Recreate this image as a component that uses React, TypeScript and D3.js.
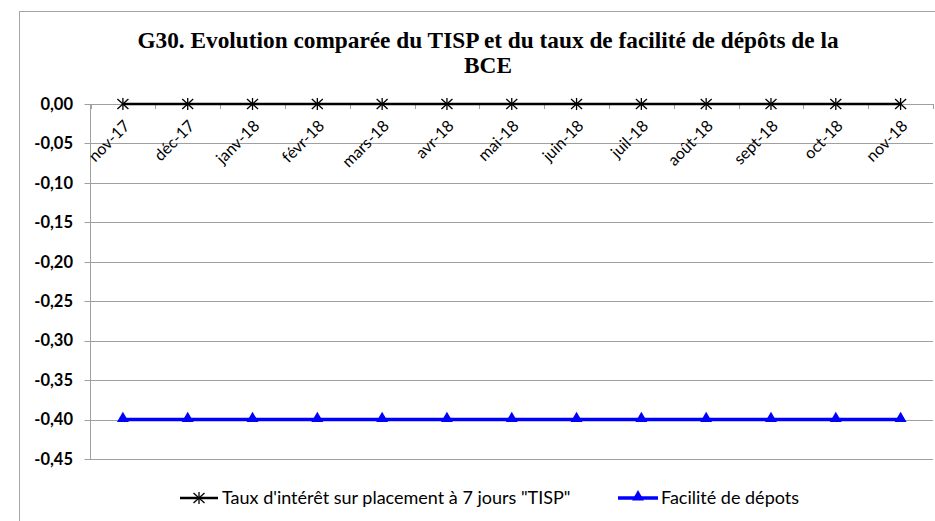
import React from "react";
import * as d3 from "d3";

const categories = ["nov-17","déc-17","janv-18","févr-18","mars-18","avr-18","mai-18","juin-18","juil-18","août-18","sept-18","oct-18","nov-18"];
const tispValues = [0,0,0,0,0,0,0,0,0,0,0,0,0];
const depotValues = [-0.4,-0.4,-0.4,-0.4,-0.4,-0.4,-0.4,-0.4,-0.4,-0.4,-0.4,-0.4,-0.4];
const yTicks = [0,-0.05,-0.1,-0.15,-0.2,-0.25,-0.3,-0.35,-0.4,-0.45];
const titleLines = ["G30. Evolution comparée du TISP et du taux de facilité de dépôts de la","BCE"];
const legendLabels = ["Taux d'intérêt sur placement à 7 jours \"TISP\"","Facilité de dépots"];

const W = 935, H = 521;
const plot = { left: 90.5, right: 933, top: 104, bottom: 459 };
const font = "Lato, 'Open Sans', sans-serif";

export default function App() {
  const x = d3.scaleBand<string>().domain(categories).range([plot.left, plot.right]);
  const y = d3.scaleLinear().domain([0, -0.45]).range([plot.top, plot.bottom]);
  const cx = (c: string) => (x(c) as number) + x.bandwidth() / 2;
  const line = d3.line<number>().x((_, i) => cx(categories[i])).y(d => y(d));
  const fmt = (v: number) => v.toFixed(2).replace(".", ",").replace(/^-?0,00$/, "0,00");
  const tri = d3.symbol().type(d3.symbolTriangle).size(62)();
  const star = (px: number, py: number, k: number) => (
    <g key={k} transform={`translate(${px},${py})`} stroke="#000" strokeWidth={1.3}>
      <line x1={0} y1={-6} x2={0} y2={6} />
      <line x1={-5.5} y1={-5} x2={5.5} y2={5} />
      <line x1={-5.5} y1={5} x2={5.5} y2={-5} />
    </g>
  );
  const boundaries = [...categories.map(c => x(c) as number), plot.right];
  return (
    <svg width={W} height={H} style={{ position: "absolute", left: 0, top: 0, background: "#fff" }}>
      <rect x={19.5} y={11.5} width={W} height={H} fill="#fff" stroke="#a6a6a6" strokeWidth={1} />
      {titleLines.map((t, i) => (
        <text key={i} x={488} y={48 + i * 25} textAnchor="middle" fontFamily="'Liberation Serif', 'DejaVu Serif', serif" fontWeight="bold" fontSize={23.3} fill="#000">{t}</text>
      ))}
      {yTicks.map((v, i) => (
        <g key={i}>
          <line x1={plot.left - 6} x2={plot.right} y1={Math.round(y(v)) + 0.5} y2={Math.round(y(v)) + 0.5} stroke="#a0a0a0" strokeWidth={1} />
          <text x={73} y={y(v)} dy="0.35em" textAnchor="end" fontFamily={font} fontWeight="bold" fontSize={16.5} fill="#000">{fmt(v)}</text>
        </g>
      ))}
      <line x1={plot.left} x2={plot.left} y1={plot.top} y2={plot.bottom} stroke="#a0a0a0" strokeWidth={1} />
      {boundaries.map((b, i) => (
        <line key={i} x1={Math.round(b) + 0.5} x2={Math.round(b) + 0.5} y1={plot.top} y2={plot.top + 5} stroke="#a0a0a0" strokeWidth={1} />
      ))}
      {categories.map((c, i) => (
        <text key={i} transform={`translate(${cx(c) + 4},${plot.top + 19}) rotate(-45)`} textAnchor="end" dy="0.35em" fontFamily={font} fontSize={16} fill="#000">{c}</text>
      ))}
      <path d={line(depotValues) || ""} fill="none" stroke="#0000ff" strokeWidth={3.5} />
      {depotValues.map((v, i) => (
        <path key={i} d={tri || ""} transform={`translate(${cx(categories[i])},${y(v) - 1})`} fill="#0000ff" />
      ))}
      <path d={line(tispValues) || ""} fill="none" stroke="#000" strokeWidth={2.5} />
      {tispValues.map((v, i) => star(cx(categories[i]), y(v), i))}
      <g>
        <line x1={180} x2={218} y1={498} y2={498} stroke="#000" strokeWidth={2.5} />
        {star(199, 498, 99)}
        <text x={222} y={498} dy="0.35em" fontFamily={font} fontSize={18} fill="#000">{legendLabels[0]}</text>
        <line x1={618} x2={658} y1={498} y2={498} stroke="#0000ff" strokeWidth={3.5} />
        <path d={tri || ""} transform={`translate(638,497)`} fill="#0000ff" />
        <text x={661} y={498} dy="0.35em" fontFamily={font} fontSize={18} fill="#000">{legendLabels[1]}</text>
      </g>
    </svg>
  );
}
